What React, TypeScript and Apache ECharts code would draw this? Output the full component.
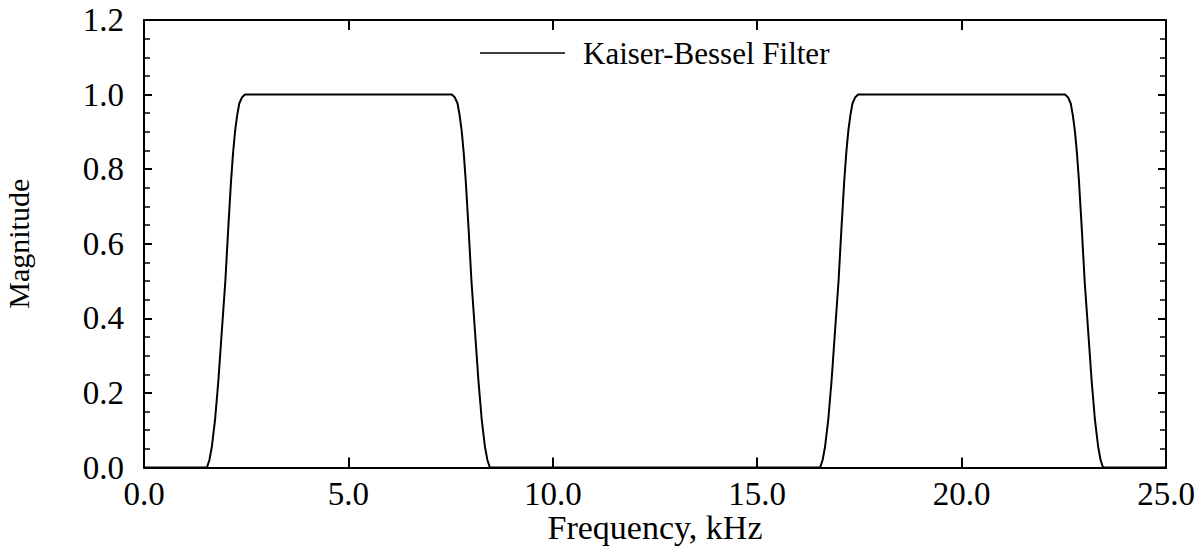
import React, { useEffect, useRef } from "react";
import * as echarts from "echarts";

const seriesName = "Kaiser-Bessel Filter";
const xAxisName = "Frequency, kHz";
const yAxisName = "Magnitude";

const freqKHz = [
  0, 1.54, 1.6, 1.66, 1.74, 1.82, 1.9, 1.99, 2.06, 2.13, 2.18, 2.23, 2.28, 2.33, 2.4, 2.47,
  7.53, 7.6, 7.67, 7.72, 7.77, 7.82, 7.87, 7.94, 8.01, 8.1, 8.18, 8.26, 8.34, 8.4, 8.46,
  16.54, 16.6, 16.66, 16.74, 16.82, 16.9, 16.99, 17.06, 17.13, 17.18, 17.23, 17.28, 17.33, 17.4, 17.47,
  22.53, 22.6, 22.67, 22.72, 22.77, 22.82, 22.87, 22.94, 23.01, 23.1, 23.18, 23.26, 23.34, 23.4, 23.46,
  25,
];
const magnitude = [
  0, 0, 0.02, 0.056, 0.13, 0.234, 0.36, 0.5, 0.64, 0.77, 0.845, 0.904, 0.945, 0.976, 0.993, 1.0,
  1.0, 0.993, 0.976, 0.945, 0.904, 0.845, 0.77, 0.64, 0.5, 0.36, 0.234, 0.13, 0.056, 0.02, 0,
  0, 0.02, 0.056, 0.13, 0.234, 0.36, 0.5, 0.64, 0.77, 0.845, 0.904, 0.945, 0.976, 0.993, 1.0,
  1.0, 0.993, 0.976, 0.945, 0.904, 0.845, 0.77, 0.64, 0.5, 0.36, 0.234, 0.13, 0.056, 0.02, 0,
  0,
];

const FONT = "'Liberation Serif', 'DejaVu Serif', serif";

export default function App() {
  const ref = useRef<HTMLDivElement>(null);
  useEffect(() => {
    if (!ref.current) return;
    const chart = echarts.init(ref.current, null, { renderer: "svg" });
    const data = freqKHz.map((f, i) => [f, magnitude[i]]);
    const mkLine = () => ({ show: true, onZero: false, lineStyle: { color: "#000", width: 2 } });
    chart.setOption({
      animation: false,
      backgroundColor: "#fff",
      textStyle: { fontFamily: FONT, color: "#000" },
      grid: { left: 144, right: 38, top: 20, bottom: 82.5, containLabel: false, outerBoundsMode: "none" },
      graphic: [
        {
          type: "line",
          shape: { x1: 480, y1: 53, x2: 565, y2: 53 },
          style: { stroke: "#000", lineWidth: 1.5 },
        },
        {
          type: "text",
          x: 583,
          y: 53,
          style: {
            text: seriesName,
            fontFamily: FONT,
            fontSize: 31,
            fill: "#000",
            textAlign: "left",
            textVerticalAlign: "middle",
          },
        },
      ],
      xAxis: [
        {
          type: "value",
          min: 0,
          max: 25,
          interval: 5,
          position: "bottom",
          name: xAxisName,
          nameLocation: "middle",
          nameGap: 43,
          nameMoveOverlap: false,
          nameTextStyle: { fontFamily: FONT, fontSize: 34, color: "#000" },
          axisLine: mkLine(),
          axisTick: { show: true, inside: true, length: 10, lineStyle: { color: "#000", width: 2 } },
          axisLabel: {
            fontFamily: FONT,
            fontSize: 33,
            color: "#000",
            margin: 10,
            formatter: (v: number) => v.toFixed(1),
          },
          splitLine: { show: false },
        },
        {
          type: "value",
          min: 0,
          max: 25,
          interval: 5,
          position: "top",
          axisLine: mkLine(),
          axisTick: { show: true, inside: true, length: 10, lineStyle: { color: "#000", width: 2 } },
          axisLabel: { show: false },
          splitLine: { show: false },
        },
      ],
      yAxis: [
        {
          type: "value",
          min: 0,
          max: 1.2,
          interval: 0.2,
          position: "left",
          name: yAxisName,
          nameLocation: "middle",
          nameGap: 111,
          nameRotate: 90,
          nameMoveOverlap: false,
          nameTextStyle: { fontFamily: FONT, fontSize: 30, color: "#000" },
          axisLine: mkLine(),
          axisTick: { show: true, inside: true, length: 8, lineStyle: { color: "#000", width: 2 } },
          minorTick: { show: true, splitNumber: 4, length: 6, lineStyle: { color: "#000", width: 1.5 } },
          axisLabel: {
            fontFamily: FONT,
            fontSize: 33,
            color: "#000",
            margin: 20,
            formatter: (v: number) => v.toFixed(1),
          },
          splitLine: { show: false },
        },
        {
          type: "value",
          min: 0,
          max: 1.2,
          interval: 0.2,
          position: "right",
          axisLine: mkLine(),
          axisTick: { show: true, inside: true, length: 8, lineStyle: { color: "#000", width: 2 } },
          minorTick: { show: true, splitNumber: 4, length: 6, lineStyle: { color: "#000", width: 1.5 } },
          axisLabel: { show: false },
          splitLine: { show: false },
        },
      ],
      series: [
        {
          name: seriesName,
          type: "line",
          xAxisIndex: 0,
          yAxisIndex: 0,
          data,
          showSymbol: false,
          symbol: "none",
          smooth: false,
          lineStyle: { color: "#000", width: 2 },
          itemStyle: { color: "#000" },
        },
      ],
    });
    return () => chart.dispose();
  }, []);
  return <div ref={ref} style={{ width: 1204, height: 550, position: "absolute", left: 0, top: 0 }} />;
}
